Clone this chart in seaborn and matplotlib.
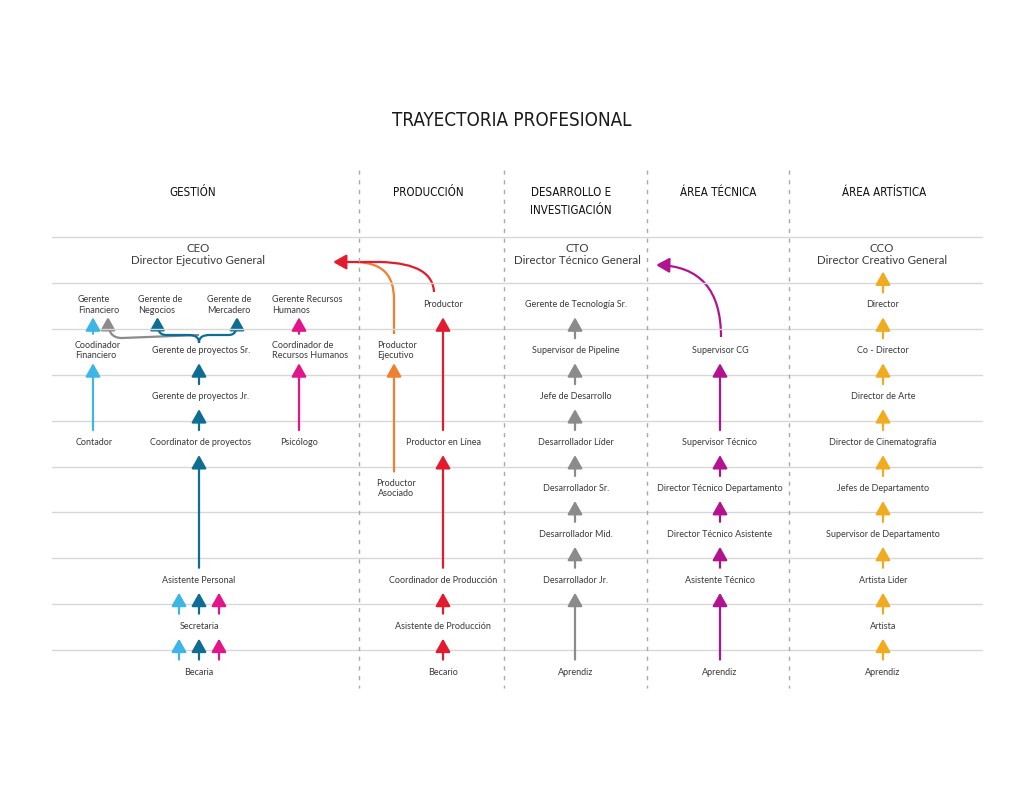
import numpy as np
import pandas as pd
import matplotlib
matplotlib.use("Agg")
import matplotlib.pyplot as plt
from matplotlib.path import Path
from matplotlib.patches import FancyArrowPatch, PathPatch
import seaborn as sns

# ── 1. DATA ───────────────────────────────────────────────────
title = "TRAYECTORIA PROFESIONAL"
areas = ["GESTIÓN", "PRODUCCIÓN", "DESARROLLO E\nINVESTIGACIÓN", "ÁREA TÉCNICA", "ÁREA ARTÍSTICA"]
chiefs = ["CEO\nDirector Ejecutivo General",
          "CTO\nDirector Técnico General",
          "CCO\nDirector Creativo General"]

# Gestión (level 0 = top row, 9 = bottom row)
base_roles = ["Becaria", "Secretaria", "Asistente Personal"]
base_levels = [9, 8, 7]
fin_roles = ["Contador", "Coodinador\nFinanciero", "Gerente\nFinanciero"]
fin_levels = [4, 2, 1]
proy_roles = ["Coordinator de proyectos", "Gerente de proyectos Jr.", "Gerente de proyectos Sr."]
proy_levels = [4, 3, 2]
sr_targets = ["Gerente de\nNegocios", "Gerente de\nMercadero"]
sr_target_level = 1
rrhh_roles = ["Psicólogo", "Coordinador de\nRecursos Humanos", "Gerente Recursos\nHumanos"]
rrhh_levels = [4, 2, 1]

# Producción
prod_roles = ["Becario", "Asistente de Producción", "Coordinador de Producción",
              "Productor en Línea", "Productor"]
prod_levels = [9, 8, 7, 4, 1]
exec_roles = ["Productor\nAsociado", "Productor\nEjecutivo"]
exec_levels = [5, 2]

# Desarrollo e investigación
dev_roles = ["Aprendiz", "Desarrollador Jr.", "Desarrollador Mid.", "Desarrollador Sr.",
             "Desarrollador Líder", "Jefe de Desarrollo", "Supervisor de Pipeline",
             "Gerente de Tecnología Sr."]
dev_levels = [9, 7, 6, 5, 4, 3, 2, 1]

# Área técnica
tec_roles = ["Aprendiz", "Asistente Técnico", "Director Técnico Asistente",
             "Director Técnico Departamento", "Supervisor Técnico", "Supervisor CG"]
tec_levels = [9, 7, 6, 5, 4, 2]

# Área artística
art_roles = ["Aprendiz", "Artista", "Artista Lider", "Supervisor de Departamento",
             "Jefes de Departamento", "Director de Cinematografía", "Director de Arte",
             "Co - Director", "Director"]
art_levels = [9, 8, 7, 6, 5, 4, 3, 2, 1]

# ── 2. STYLE / LAYOUT ─────────────────────────────────────────
C_TXT = "#3a3a3a"
C_BLUE = "#3db6e6"
C_TEAL = "#0d6d93"
C_PINK = "#e2168a"
C_GRAY = "#8b8b8d"
C_RED = "#e31b2e"
C_ORANGE = "#f07f30"
C_MAG = "#b2138f"
C_AMBER = "#f1ab1f"

TOP, STEP, N_RULES = 237, 45.9, 10
HEAD = "-|>,head_length=0.8,head_width=0.45"
LW = 1.6

sns.set_theme(style="white")
plt.rcParams["font.family"] = ["Lato", "DejaVu Sans"]
NARROW = ["DejaVu Sans Condensed", "Liberation Sans Narrow", "DejaVu Sans"]

fig = plt.figure(figsize=(10.24, 7.91), dpi=100)
ax = fig.add_axes([0, 0, 1, 1])


def row_y(level):
    return TOP + (level + 0.5) * STEP


def put(text, x, level, ha="center", size=6.5, dy=-1):
    ax.text(x, row_y(level) + dy, text, ha=ha, va="center", fontsize=size,
            color=C_TXT, linespacing=1.2, multialignment="left" if ha == "left" else "center")


def up(x, lvl_from, lvl_to, color, two_line=False):
    y0 = row_y(lvl_from) - (18 if two_line else 13.5)
    y1 = row_y(lvl_to) + 11.5
    ax.annotate("", xy=(x, y1), xytext=(x, y0),
                arrowprops=dict(arrowstyle=HEAD, color=color, lw=LW,
                                shrinkA=0, shrinkB=0, mutation_scale=10))


def curve(verts, codes, color, head=True):
    p = Path(verts, codes)
    if head:
        ax.add_patch(FancyArrowPatch(path=p, arrowstyle=HEAD, color=color, lw=LW,
                                     mutation_scale=10, capstyle="butt"))
    else:
        ax.add_patch(PathPatch(p, fill=False, edgecolor=color, lw=LW, capstyle="butt"))


def ladder(roles, levels, x, color, label_pos):
    for i, (r, lv) in enumerate(zip(roles, levels)):
        lx, ha = label_pos[i]
        put(r, lx, lv, ha=ha)
        if i > 0:
            up(x, levels[i - 1], lv, color, two_line="\n" in roles[i - 1])


# ── 3. GRID: rules + column dividers ──────────────────────────
rules = pd.DataFrame({
    "x": np.tile([52, 982], N_RULES),
    "y": np.repeat(TOP + STEP * np.arange(N_RULES), 2),
    "rule": np.repeat(np.arange(N_RULES), 2),
})
sns.lineplot(data=rules, x="x", y="y", units="rule", estimator=None,
             color="#d7d7d7", lw=1, ax=ax, legend=False)
ax.vlines([359, 504, 647, 789], 170, 688, colors="#a9a9a9", lw=1,
          linestyles=(0, (3, 4)))

# ── 4. HEADERS ────────────────────────────────────────────────
ax.text(512, 120, title, ha="center", va="center", fontsize=13.5,
        family=NARROW, fontstretch="condensed", color="#1a1a1a")
for name, x in zip(areas, [193, 428, 571, 718, 884]):
    ax.text(x, 192 if "\n" not in name else 201, name, ha="center", va="center",
            fontsize=8.3, family=NARROW, fontstretch="condensed",
            color="#111111", linespacing=1.5)
for name, x in zip(chiefs, [198, 577, 882]):
    put(name, x, 0, size=8.3, dy=-5.5)

# ── 5. GESTIÓN ────────────────────────────────────────────────
for i, (r, lv) in enumerate(zip(base_roles, base_levels)):
    put(r, 199, lv)
    if i > 0:
        for dx, c in zip([-20, 0, 20], [C_BLUE, C_TEAL, C_PINK]):
            up(199 + dx, base_levels[i - 1], lv, c)
up(199, base_levels[-1], proy_levels[0], C_TEAL)

ladder(fin_roles, fin_levels, 93, C_BLUE, [(94, "center"), (75, "left"), (78, "left")])
ladder(proy_roles, proy_levels, 199, C_TEAL, [(201, "center")] * 3)
ladder(rrhh_roles, rrhh_levels, 299, C_PINK, [(299, "center"), (272, "left"), (272, "left")])
for r, lx in zip(sr_targets, [138, 207]):
    put(r, lx, sr_target_level, ha="left")

M, L, C = Path.MOVETO, Path.LINETO, Path.CURVE4
# gray link: Gerente de proyectos Sr. -> Gerente Financiero
curve([(199, 335), (122, 338), (111, 338), (108, 331), (108, 317)],
      [M, L, C, C, C], C_GRAY)
# teal brace: Sr. -> Negocios / Mercadero
curve([(199, 343), (199, 337), (195, 335), (188, 335), (167, 335),
       (159, 335), (157.5, 331), (157.5, 317)], [M, C, C, C, L, C, C, C], C_TEAL)
curve([(199, 343), (199, 337), (203, 335), (210, 335), (228, 335),
       (235.5, 335), (237, 331), (237, 317)], [M, C, C, C, L, C, C, C], C_TEAL)

# ── 6. PRODUCCIÓN ─────────────────────────────────────────────
ladder(exec_roles, exec_levels, 394, C_ORANGE, [(396, "center"), (377, "left")])
ladder(prod_roles, prod_levels, 443, C_RED, [(443, "center")] * 5)
curve([(394, 334), (394, 300), (394, 275), (383, 263), (356, 262)],
      [M, L, C, C, C], C_ORANGE, head=False)
curve([(434, 292), (433, 274), (418, 263), (380, 262), (333, 262)],
      [M, C, C, C, L], C_RED)

# ── 7. DESARROLLO / TÉCNICA / ARTÍSTICA ───────────────────────
ladder(dev_roles, dev_levels, 575, C_GRAY, [(576, "center")] * len(dev_roles))
ladder(tec_roles, tec_levels, 720, C_MAG, [(720, "center")] * len(tec_roles))
curve([(721, 337), (721, 290), (700, 266), (656, 265)], [M, C, C, C], C_MAG)
ladder(art_roles, art_levels, 883, C_AMBER, [(883, "center")] * len(art_roles))
up(883, art_levels[-1], 0, C_AMBER)

ax.set_xlim(0, 1024)
ax.set_ylim(791, 0)
ax.axis("off")

plt.savefig("out.png", dpi=100, facecolor="white")
